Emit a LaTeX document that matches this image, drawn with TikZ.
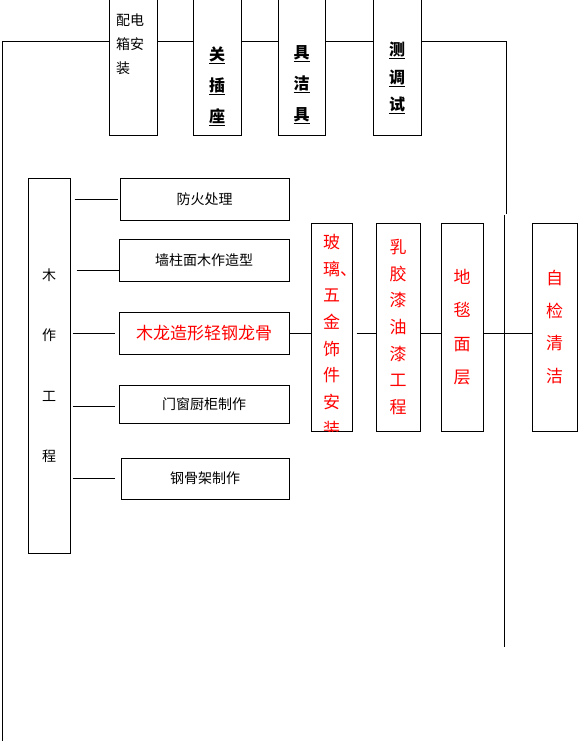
\documentclass[tikz,border=0pt]{standalone}
\usepackage{fontspec}
\setmainfont{Noto Sans CJK SC}
\usetikzlibrary{calc}

\tikzset{
  box/.style={draw, line width=1pt, inner sep=0pt},
  link/.style={line width=1pt},
  keytxt/.style={align=center, inner sep=0pt, font=\bfseries\fontsize{16}{#1}\selectfont},
  redtxt/.style={align=center, inner sep=0pt, text=red, font=\fontsize{17}{#1}\selectfont},
  plaintxt/.style={inner sep=0pt, font=\fontsize{14}{14}\selectfont},
}

\begin{document}
\begin{tikzpicture}[x=1pt,y=-1pt]
\useasboundingbox (0,0) rectangle (578,741);

% top row
\node[box, minimum width=48pt, minimum height=135pt] (pd) at (133,67.5) {};
\node[box, minimum width=48pt, minimum height=135pt] (kg) at (217,67.5) {};
\node[box, minimum width=47pt, minimum height=135pt] (jj) at (301.5,67.5) {};
\node[box, minimum width=48pt, minimum height=135pt] (ts) at (397,67.5) {};

\node[anchor=west, align=left, inner sep=0pt, font=\fontsize{14}{24}\selectfont] (pdtxt) at (116,44) {配电\\箱安\\装};
\node[keytxt=31] (kgtxt) at (217,86) {\underline{关}\\\underline{插}\\\underline{座}};
\node[keytxt=31] (jjtxt) at (301.5,85) {\underline{具}\\\underline{洁}\\\underline{具}};
\node[keytxt=27.5] (tstxt) at (397,78) {\underline{测}\\\underline{调}\\\underline{试}};

\coordinate (tl) at (2,42);
\coordinate (lb) at (2,741);
\coordinate (tr) at (506,42);
\coordinate (trb) at (506,214);
\coordinate (vt) at (504,215);
\coordinate (vb) at (504,647);

\draw[link] (lb) -- (tl) -- (tl -| pd.west);
\draw[link] (tl -| pd.east) -- (tl -| kg.west);
\draw[link] (tl -| kg.east) -- (tl -| jj.west);
\draw[link] (tl -| jj.east) -- (tl -| ts.west);
\draw[link] (tr -| ts.east) -- (tr) -- (trb);
\draw[link] (vt) -- (vb);

% wood work
\node[box, minimum width=42pt, minimum height=375pt, align=center,
      font=\fontsize{14}{60.5}\selectfont] (mz) at (49,365.5) {木\\作\\工\\程};

\node[box, plaintxt, minimum width=169pt, minimum height=42pt] (fh) at (204.5,199) {防火处理};
\node[box, plaintxt, minimum width=170pt, minimum height=42pt] (qz) at (204,260) {墙柱面木作造型};
\node[box, inner sep=0pt, text=red, font=\fontsize{17}{17}\selectfont,
      minimum width=170pt, minimum height=42pt] (lg) at (204,333) {木龙造形轻钢龙骨};
\node[box, plaintxt, minimum width=170pt, minimum height=38pt] (mc) at (204,404) {门窗厨柜制作};
\node[box, plaintxt, minimum width=168pt, minimum height=41pt] (gj) at (205,478.5) {钢骨架制作};

\draw[link] ($(mz.east |- fh.west)+(4,0)$) -- ($(fh.west)+(-2,0)$);
\draw[link] ($(mz.east |- qz.west)+(6,10)$) -- ($(qz.west)+(0,10)$);
\draw[link] ($(mz.east |- lg.west)+(2,0)$) -- ($(lg.west)+(-4,0)$);
\draw[link] ($(mz.east |- mc.west)+(2,2)$) -- ($(mc.west)+(-4,2)$);
\draw[link] ($(mz.east |- gj.west)+(2,0)$) -- ($(gj.west)+(-6,0)$);

% finishing
\coordinate (mid) at (0,333);
\node[box, minimum width=41pt, minimum height=208pt] (bl) at (331.5,327) {};
\node[box, redtxt=26.7, minimum width=44pt, minimum height=208pt] (rj) at (398,327)
  {乳\\胶\\漆\\油\\漆\\工\\程};
\node[box, redtxt=33.3, minimum width=42pt, minimum height=208pt] (dt) at (462,327)
  {地\\毯\\面\\层};
\node[box, redtxt=32.7, minimum width=45pt, minimum height=208pt] (zj) at (554.5,327)
  {自\\检\\清\\洁};
\begin{scope}
\clip (bl.north west) rectangle (bl.south east);
\node[redtxt=26.7] (bltxt) at (331.5,335.4)
  {玻\\璃\rlap{、}\\五\\金\\饰\\件\\安\\装};
\end{scope}

\draw[link] (lg.east) -- (mid -| bl.west);
\draw[link] ($(mid -| bl.east)+(4,0)$) -- (mid -| rj.west);
\draw[link] (mid -| rj.east) -- (mid -| dt.west);
\draw[link] (mid -| dt.east) -- (mid -| zj.west);
\end{tikzpicture}
\end{document}
